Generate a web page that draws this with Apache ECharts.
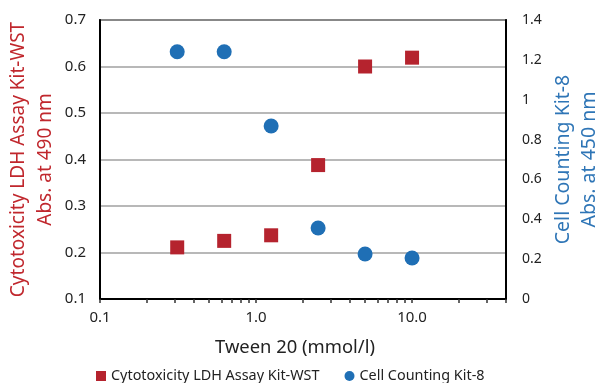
<!DOCTYPE html>
<html>
<head>
<meta charset="utf-8">
<script src="https://cdn.jsdelivr.net/npm/echarts@6/dist/echarts.min.js"></script>
<style>
  html, body { margin: 0; padding: 0; background: #fff; }
  #chart { width: 601px; height: 383px; }
</style>
</head>
<body>
<div id="chart"></div>
<script>
// Tween 20 concentrations (mmol/l)
const tween = [0.3125, 0.625, 1.25, 2.5, 5, 10];
// Cytotoxicity LDH Assay Kit-WST, Abs. at 490 nm (left axis)
const ldh = [0.211, 0.225, 0.237, 0.388, 0.600, 0.619];
// Cell Counting Kit-8, Abs. at 450 nm (right axis)
const cck = [1.241, 1.241, 0.868, 0.356, 0.226, 0.206];
// log axis tick marks
const xTicks = [0.1, 0.2, 0.3, 0.4, 0.5, 0.6, 0.7, 0.8, 0.9, 1, 2, 3, 4, 5, 6, 7, 8, 9, 10, 20, 30, 40];
const xLabels = [0.1, 1, 10];

const FONT = 'Noto Sans';
const RED = '#b5232e';
const BLUE = '#1f6fb5';

const chart = echarts.init(document.getElementById('chart'));
chart.setOption({
  animation: false,
  textStyle: { fontFamily: FONT },
  grid: {
    left: 100, right: 95, top: 20, bottom: 84,
    outerBoundsMode: 'none',
    show: true, borderColor: '#000', borderWidth: 1.5
  },
  legend: {
    top: 364,
    left: 91,
    itemGap: 25,
    itemWidth: 10,
    itemHeight: 10,
    textStyle: { fontFamily: FONT, fontSize: 14.4, color: '#222' },
    data: [
      { name: 'Cytotoxicity LDH Assay Kit-WST', icon: 'rect' },
      { name: 'Cell Counting Kit-8', icon: 'circle' }
    ]
  },
  xAxis: {
    type: 'log',
    logBase: 10,
    min: 0.1,
    max: 40,
    name: 'Tween 20 (mmol/l)',
    nameLocation: 'middle',
    nameGap: 40,
    nameMoveOverlap: false,
    nameTextStyle: { fontFamily: FONT, fontSize: 18.4, color: '#222', padding: [0, 16, 0, 0] },
    axisLine: { lineStyle: { color: '#000', width: 2 } },
    axisTick: { show: true, length: 4, customValues: xTicks, lineStyle: { color: '#333', width: 1.5 } },
    axisLabel: {
      customValues: xLabels,
      fontSize: 15, color: '#222', margin: 11,
      formatter: v => Number(v).toFixed(1)
    },
    splitLine: { show: false }
  },
  yAxis: [
    {
      type: 'value',
      min: 0.1, max: 0.7, interval: 0.1,
      name: 'Cytotoxicity LDH Assay Kit-WST\nAbs. at 490 nm',
      nameLocation: 'middle',
      nameRotate: 90,
      nameGap: 41,
      nameMoveOverlap: false,
      nameTextStyle: { fontFamily: FONT, fontSize: 19, color: '#c0272d', lineHeight: 27 },
      axisLine: { show: true, lineStyle: { color: '#000', width: 2 } },
      axisTick: { show: false },
      axisLabel: { fontSize: 15, color: '#222', margin: 14, formatter: v => v.toFixed(1) },
      splitLine: { show: true, lineStyle: { color: '#a0a0a0', width: 1.5 } }
    },
    {
      type: 'value',
      min: 0, max: 1.4, interval: 0.2,
      position: 'right',
      name: 'Cell Counting Kit-8\nAbs. at 450 nm',
      nameLocation: 'middle',
      nameRotate: 90,
      nameGap: 44,
      nameMoveOverlap: false,
      nameTextStyle: { fontFamily: FONT, fontSize: 19.5, color: '#2e75b6', lineHeight: 26 },
      axisLine: { show: true, lineStyle: { color: '#000', width: 2 } },
      axisTick: { show: false },
      axisLabel: { fontSize: 14, color: '#222', margin: 16, formatter: v => String(Math.round(v * 10) / 10) },
      splitLine: { show: false }
    }
  ],
  series: [
    {
      name: 'Cytotoxicity LDH Assay Kit-WST',
      type: 'scatter',
      yAxisIndex: 0,
      symbol: 'rect',
      symbolSize: 14,
      itemStyle: { color: RED, opacity: 1 },
      data: tween.map((x, i) => [x, ldh[i]])
    },
    {
      name: 'Cell Counting Kit-8',
      type: 'scatter',
      yAxisIndex: 1,
      symbol: 'circle',
      symbolSize: 15,
      itemStyle: { color: BLUE, opacity: 1 },
      data: tween.map((x, i) => [x, cck[i]])
    }
  ]
});
</script>
</body>
</html>
